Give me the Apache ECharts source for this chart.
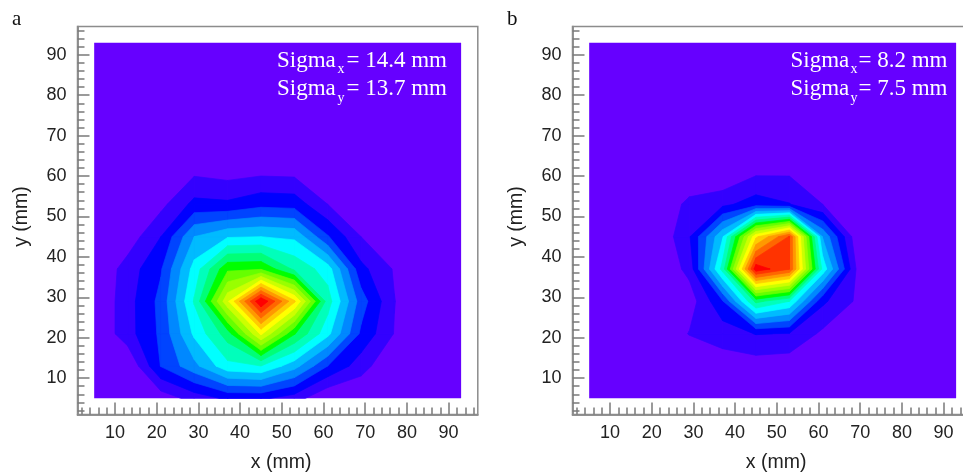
<!DOCTYPE html>
<html><head><meta charset="utf-8">
<style>html,body{margin:0;padding:0;background:#fff}#c{width:963px;height:475px}</style>
<script src="https://cdn.jsdelivr.net/npm/echarts@6/dist/echarts.min.js"></script>
</head><body><div id="c"></div>
<script>
// Measurement grid nodes (mm)
var gridX = [5,13,21,29,37,45,53,61,69,77,85,93];
var gridY = [5,13,21,29,37,45,53,61,69,77,85,93];
// Intensity in contour-level units, rows listed from y=5 upward
var zeroRow = [0,0,0,0,0,0,0,0,0,0,0,0];
var intensityA = [
 [0,0,.4,1.4,2.2,2.2,1.5,0,0,0,0,0],
 [0,0,3.05,4.7,6.7,7,5.4,3,1.45,0,0,0],
 [0,1.6,3.2,6.2,8.5,13.2,9.1,6.3,2.8,.95,0,0],
 [0,1.6,3.3,7.1,12.8,19,14.2,7.5,3.5,1.03,0,0],
 [0,1.45,2.9,6.4,9.8,9.9,7.8,6.5,2.3,.9,0,0],
 [0,.39,2,5,5.9,6,5.8,3.1,1,0,0,0],
 [0,0,.7,2.3,2.2,2.7,2.6,1,0,0,0,0],
 [0,0,0,.8,.58,.76,.7,0,0,0,0,0],
 zeroRow,zeroRow,zeroRow,zeroRow
];
var intensityB = [
 zeroRow,
 [0,0,0,0,.54,.48,.36,0,0,0,0,0],
 [0,0,0,1.05,1.4,2.05,1.95,.78,0,0,0,0],
 [0,0,0,.44,2.9,8.3,7,2.2,.88,0,0,0],
 [0,0,0,1.3,7.4,18.7,17.05,6.7,1,0,0,0],
 [0,0,0,1.9,5.9,13.8,17.1,4.9,.42,0,0,0],
 [0,0,0,1.3,1.75,2.5,2.05,1,0,0,0,0],
 [0,0,0,0,0,.8,.85,0,0,0,0,0],
 zeroRow,zeroRow,zeroRow,zeroRow
];
var bandColors = ['#6600ff','#3300ff','#0000ff','#0044ff','#0088ff','#00bbff','#00ffff','#00ffbb','#00ff77','#00ff00','#66ff00','#99ff00','#ccff00','#ffff00','#ffcc00','#ff9900','#ff6600','#ff3300','#ff0000'];
var majorTicks = [10,20,30,40,50,60,70,80,90];
var minorTicks = [2,4,6,8,12,14,16,18,22,24,26,28,32,34,36,38,42,44,46,48,52,54,56,58,62,64,66,68,72,74,76,78,82,84,86,88,92,94,96];
var panelLetters = ['a','b'];
var sigmaA = ['14.4','13.7'];
var sigmaB = ['8.2','7.5'];

function clip(poly, level){
  var out=[];
  for(var i=0;i<poly.length;i++){
    var p=poly[i], q=poly[(i+1)%poly.length];
    if(p[2]>=level) out.push(p);
    if((p[2]>=level)!==(q[2]>=level)){
      var t=(level-p[2])/(q[2]-p[2]);
      out.push([p[0]+t*(q[0]-p[0]),p[1]+t*(q[1]-p[1]),level]);
    }
  }
  return out;
}
function contourRender(z){
  return function(params, api){
    var k=params.dataIndex, children=[], c=bandColors[k];
    if(k===0){
      var nx=gridX.length-1, ny=gridY.length-1;
      return {type:'polygon',silent:true,
        shape:{points:[[gridX[0],gridY[0]],[gridX[nx],gridY[0]],[gridX[nx],gridY[ny]],[gridX[0],gridY[ny]]].map(function(p){return api.coord(p);})},
        style:{fill:c}};
    }
    for(var j=0;j<gridY.length-1;j++) for(var i=0;i<gridX.length-1;i++){
      var cell=[[gridX[i],gridY[j],z[j][i]],[gridX[i+1],gridY[j],z[j][i+1]],[gridX[i+1],gridY[j+1],z[j+1][i+1]],[gridX[i],gridY[j+1],z[j+1][i]]];
      var poly=clip(cell,k);
      if(poly.length<3) continue;
      children.push({type:'polygon',silent:true,
        shape:{points:poly.map(function(p){return api.coord([p[0],p[1]]);})},
        style:{fill:c,stroke:c,lineWidth:0.7,lineJoin:'round'}});
    }
    return {type:'group',children:children};
  };
}
var tickCol='#7a7a7a', txt='#222', sans='"Liberation Sans",Arial,sans-serif', serif='"Liberation Serif","Times New Roman",serif';
var lefts=[77.5,572.5], W=400.3, T=26.5, H=388;
var grids=[],xA=[],yA=[],series=[];
lefts.forEach(function(l,n){
  grids.push({left:l,top:T,width:W,height:H,outerBoundsMode:'none',show:true,borderColor:'#8c8c8c',borderWidth:1.5,backgroundColor:'#fff'});
  function ax(pos,ticks,len,label,extra){
    return Object.assign({type:'value',gridIndex:n,position:pos,min:1,max:97,splitLine:{show:false},
      axisLine:{show:true,onZero:false,lineStyle:{color:'#8c8c8c',width:1.5}},
      axisTick:{show:true,inside:true,length:len,customValues:ticks,lineStyle:{color:tickCol,width:1.5}},
      axisLabel:label?{show:true,customValues:majorTicks,color:txt,fontFamily:sans,fontSize:18,margin:label}:{show:false}},extra||{});
  }
  function nm(pad){return {nameLocation:'middle',nameTextStyle:{color:txt,fontFamily:sans,fontSize:19.5,padding:pad}};}
  xA.push(ax('bottom',majorTicks,12,10,Object.assign({name:'x (mm)',nameGap:38},nm([0,0,0,7]))));
  xA.push(ax('bottom',minorTicks,7,0));
  yA.push(ax('left',majorTicks,12,11,Object.assign({name:'y (mm)',nameGap:46},nm([0,0,0,8]))));
  yA.push(ax('left',minorTicks,7,0));
  series.push({type:'custom',coordinateSystem:'cartesian2d',xAxisIndex:n*2,yAxisIndex:n*2,clip:false,silent:true,
    renderItem:contourRender(n===0?intensityA:intensityB),
    data:bandColors.map(function(c,k){return [5,5+k];})});
});
function t(text,x,y,size,fam,fill){
  return {type:'text',silent:true,z:50,x:x,y:y,style:{text:text,fontSize:size,fontFamily:fam,fill:fill,verticalAlign:'middle',align:'left'}};
}
var gfx=[t(panelLetters[0],12,19,21,serif,'#111'),t(panelLetters[1],507,19,21,serif,'#111')];
function sigmaBlock(x0,xSub,xEq,vals){
  var rows=[[60.5,'x'],[89,'y']];
  rows.forEach(function(r,i){
    gfx.push(t('Sigma',x0,r[0],23,serif,'#fff'));
    gfx.push(t(r[1],xSub,r[0]+9,14,serif,'#fff'));
    gfx.push(t('= '+vals[i]+' mm',xEq,r[0],23,serif,'#fff'));
  });
}
sigmaBlock(277,337.5,346.5,sigmaA);
sigmaBlock(790.5,850.5,858.5,sigmaB);
var chart=echarts.init(document.getElementById('c'),null,{renderer:'canvas'});
chart.setOption({animation:false,backgroundColor:'#fff',grid:grids,xAxis:xA,yAxis:yA,series:series,graphic:{elements:gfx}});
</script></body></html>
